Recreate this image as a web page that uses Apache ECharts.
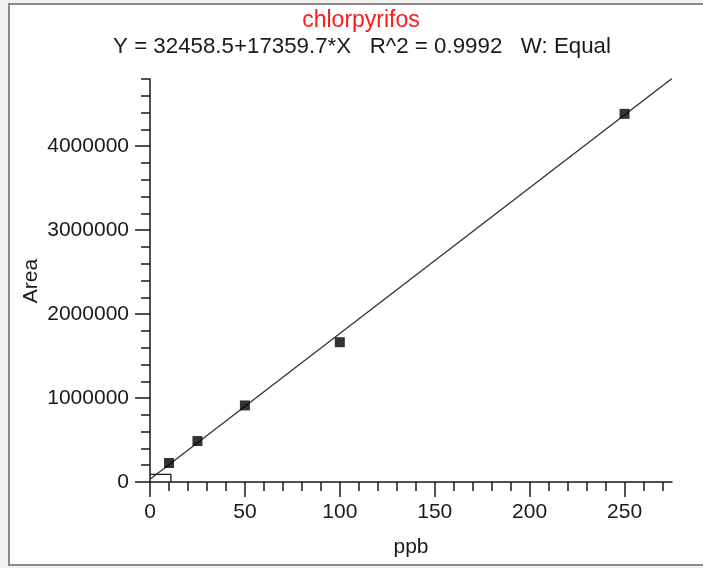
<!DOCTYPE html>
<html>
<head>
<meta charset="utf-8">
<script src="https://cdn.jsdelivr.net/npm/echarts@6/dist/echarts.min.js"></script>
<style>
  html, body { margin: 0; padding: 0; background: #f1f1f1; }
  #chart { width: 703px; height: 568px; }
</style>
</head>
<body>
<div id="chart"></div>
<script>
// Calibration standards for chlorpyrifos
const concentrations = [10, 25, 50, 100, 250];          // ppb
const areas = [226000, 488000, 912000, 1665000, 4385000]; // peak area

// Linear fit reported for the calibration
const fitIntercept = 32458.5;
const fitSlope = 17359.7;
const fitRange = [0, 275];

// Axis ranges and tick positions
const xMax = 275;
const yMax = 4800000;
const xMajorTicks = [0, 50, 100, 150, 200, 250];
const xMinorTicks = [10, 20, 30, 40, 60, 70, 80, 90, 110, 120, 130, 140, 160, 170, 180, 190, 210, 220, 230, 240, 260, 270];
const yMajorTicks = [0, 1000000, 2000000, 3000000, 4000000];
const yMinorTicks = [200000, 400000, 600000, 800000, 1200000, 1400000, 1600000, 1800000, 2200000, 2400000, 2600000, 2800000, 3200000, 3400000, 3600000, 3800000, 4200000, 4400000, 4600000, 4800000];

// Small origin marker box
const originBox = [[0, 92000], [11, 92000], [11, 0]];

const titleText = 'chlorpyrifos';
const equationText = 'Y = 32458.5+17359.7*X   R^2 = 0.9992   W: Equal';
const xAxisTitle = 'ppb';
const yAxisTitle = 'Area';

const FONT = 'Arial, "Liberation Sans", sans-serif';
const INK = '#1a1a1a';

const fitLine = fitRange.map(x => [x, fitIntercept + fitSlope * x]);
const points = concentrations.map((c, i) => [c, areas[i]]);

const chart = echarts.init(document.getElementById('chart'), null, { renderer: 'canvas' });

const majorTickStyle = { show: true, inside: false, length: 15, lineStyle: { color: INK, width: 1.5 } };
const minorTickStyle = { show: true, inside: false, length: 9, lineStyle: { color: INK, width: 1.5 } };
const plainNumber = v => String(v);

chart.setOption({
  animation: false,
  backgroundColor: 'transparent',
  graphic: [
    {
      type: 'rect',
      z: -10,
      shape: { x: 9, y: 4, width: 720, height: 561 },
      style: { fill: '#ffffff', stroke: '#8a8a8a', lineWidth: 2 }
    },
    {
      type: 'text',
      x: 361, y: 9,
      style: { text: titleText, fill: '#ff1a1a', font: '23px ' + FONT, textAlign: 'center' }
    },
    {
      type: 'text',
      x: 362, y: 36,
      style: { text: equationText, fill: INK, font: '22.3px ' + FONT, textAlign: 'center' }
    },
    {
      // vertical title of the value axis
      type: 'text',
      x: 31, y: 281,
      rotation: Math.PI / 2,
      style: { text: yAxisTitle, fill: INK, font: '21px ' + FONT, textAlign: 'center', textVerticalAlign: 'middle' }
    }
  ],
  grid: { left: 150, right: 31, top: 79, bottom: 86, containLabel: false, outerBoundsMode: 'none' },
  xAxis: [
    {
      type: 'value', min: 0, max: xMax,
      name: xAxisTitle, nameLocation: 'middle', nameGap: 55,
      nameTextStyle: { color: INK, fontFamily: FONT, fontSize: 21 },
      axisLine: { show: true, onZero: false, lineStyle: { color: INK, width: 1.5 } },
      axisTick: Object.assign({ customValues: xMajorTicks }, majorTickStyle),
      axisLabel: { customValues: xMajorTicks, formatter: plainNumber, color: INK, fontFamily: FONT, fontSize: 21, margin: 20 },
      splitLine: { show: false }
    },
    {
      type: 'value', min: 0, max: xMax, position: 'bottom',
      axisLine: { show: false },
      axisTick: Object.assign({ customValues: xMinorTicks }, minorTickStyle),
      axisLabel: { show: false },
      splitLine: { show: false }
    }
  ],
  yAxis: [
    {
      type: 'value', min: 0, max: yMax,
      axisLine: { show: true, onZero: false, lineStyle: { color: INK, width: 1.5 } },
      axisTick: Object.assign({ customValues: yMajorTicks }, majorTickStyle),
      axisLabel: { customValues: yMajorTicks, formatter: plainNumber, color: INK, fontFamily: FONT, fontSize: 21, margin: 21 },
      splitLine: { show: false }
    },
    {
      type: 'value', min: 0, max: yMax, position: 'left',
      axisLine: { show: false },
      axisTick: Object.assign({ customValues: yMinorTicks }, minorTickStyle),
      axisLabel: { show: false },
      splitLine: { show: false }
    }
  ],
  series: [
    {
      name: 'fit',
      type: 'line',
      data: fitLine,
      showSymbol: false,
      symbol: 'none',
      lineStyle: { color: '#333333', width: 1.3 },
      z: 2
    },
    {
      name: 'origin box',
      type: 'line',
      data: originBox,
      showSymbol: false,
      symbol: 'none',
      lineStyle: { color: INK, width: 1.3 },
      z: 2
    },
    {
      name: 'standards',
      type: 'scatter',
      data: points,
      symbol: 'rect',
      symbolSize: 10,
      itemStyle: { color: '#000000' },
      z: 3
    }
  ]
});
</script>
</body>
</html>
